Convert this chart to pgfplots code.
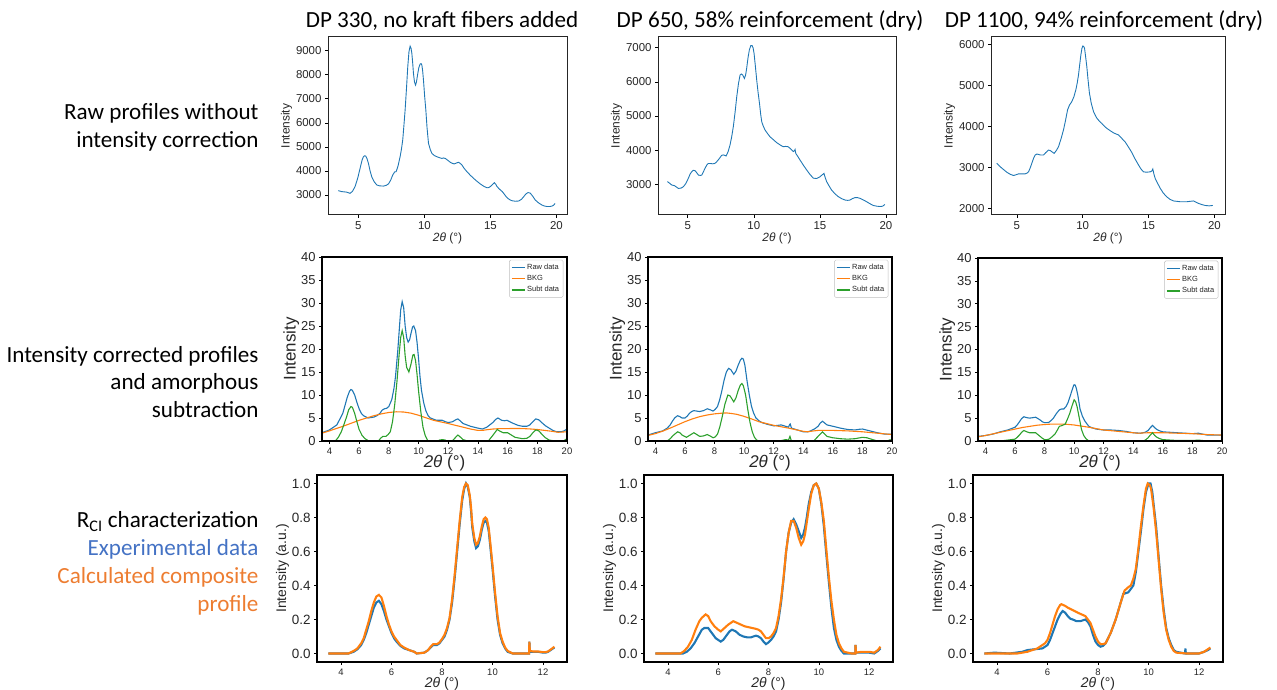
\documentclass[border=0pt]{standalone}
\usepackage{pgfplots}
\pgfplotsset{compat=1.18}
\usepackage{fontspec}
\setmainfont{Carlito}
\newfontfamily\arial{Liberation Sans}
\definecolor{tabblue}{HTML}{1F77B4}
\definecolor{taborange}{HTML}{FF7F0E}
\definecolor{tabgreen}{HTML}{2CA02C}
\definecolor{offblue}{HTML}{4472C4}
\definecolor{offorange}{HTML}{ED7D31}
\definecolor{txt}{HTML}{262626}
\pgfplotsset{
  base/.style={scale only axis, anchor=north west, axis line style={line width=1.3pt, black},
    tick align=outside, tick pos=left, major tick length=3pt, every tick/.style={black, line width=0.6pt},
    /pgf/number format/assume math mode=true, /pgf/number format/set thousands separator={},
    clip=true, axis on top},
  r1/.style={base, axis line style={line width=1pt, black!85},
    tick label style={font=\arial\fontsize{11.5}{13}\selectfont, text=txt},
    label style={font=\arial\fontsize{12}{14}\selectfont, text=txt},
    xtick={5,10,15,20}, xlabel={{\itshape 2θ} (°)}, ylabel={Intensity},
    xlabel shift=-4pt, ylabel shift=-3pt},
  r1p/.style={tabblue, line width=0.9pt, no marks},
  r2/.style={base, xmin=3.5, xmax=20, ymin=0, ymax=40, xtick={4,6,...,20}, ytick={0,5,...,40},
    yticklabel style={font=\arial\fontsize{13}{14}\selectfont, text=txt},
    xticklabel style={font=\arial\fontsize{9.5}{11}\selectfont, text=txt},
    label style={font=\arial\fontsize{17}{19}\selectfont, text=txt},
    xlabel={{\itshape 2θ} (°)}, ylabel={Intensity}, xlabel shift=-6pt, ylabel shift=-5pt,
    legend style={at={(0.985,0.985)}, anchor=north east, font=\arial\fontsize{7.5}{8}\selectfont,
      draw=black!25, rounded corners=1.5pt, inner sep=2pt, row sep=0.5pt, text=txt},
    legend cell align=left,
    legend image code/.code={\draw[#1] (0cm,0cm) -- (0.45cm,0cm);}},
  r3/.style={base, xmin=3.05, xmax=12.95, ymin=-0.05, ymax=1.05, xtick={4,6,...,12}, ytick={0,0.2,...,1.0},
    yticklabel style={font=\arial\fontsize{13.5}{15}\selectfont, text=txt, /pgf/number format/.cd, fixed, fixed zerofill, precision=1},
    xticklabel style={font=\arial\fontsize{9.5}{11}\selectfont, text=txt},
    label style={font=\arial\fontsize{14}{15}\selectfont, text=txt},
    xlabel={{\itshape 2θ} (°)}, ylabel={Intensity (a.u.)}, xlabel shift=-5pt, ylabel shift=-4pt},
}
\begin{document}
\begin{tikzpicture}
\path[use as bounding box] (0,0) rectangle (1277bp,690bp);
% ---------- titles ----------
\node[font=\fontsize{23.2}{26}\selectfont] at (442bp,669bp) {DP 330, no kraft fibers added};
\node[font=\fontsize{23.2}{26}\selectfont] at (770bp,669bp) {DP 650, 58\% reinforcement (dry)};
\node[font=\fontsize{23.2}{26}\selectfont] at (1104bp,669bp) {DP 1100, 94\% reinforcement (dry)};
% ---------- left text ----------
\node[anchor=east, align=right, font=\fontsize{23.2}{28}\selectfont] at (262bp,563bp) {Raw profiles without\\intensity correction};
\node[anchor=east, align=right, font=\fontsize{23.2}{27.5}\selectfont] at (262bp,308bp) {Intensity corrected profiles\\and amorphous\\subtraction};
\node[anchor=east, align=right, font=\fontsize{23.2}{28}\selectfont] at (262bp,127bp) {R\textsubscript{CI} characterization\\\textcolor{offblue}{Experimental data}\\\textcolor{offorange}{Calculated composite}\\\textcolor{offorange}{profile}};

% ================= ROW 1 =================
\begin{axis}[r1, at={(328bp,653bp)}, width=239bp, height=178bp, xmin=2.7, xmax=20.8, ymin=2168, ymax=9570,
  ytick={3000,4000,...,9000}]
\addplot[r1p] coordinates {(3.48,3180)(3.74,3140)(4.1,3120)(4.37,3070)(4.55,3150)(4.75,3350)(4.95,3700)(5.13,4110)(5.28,4450)(5.38,4590)(5.47,4630)(5.56,4620)(5.66,4500)(5.76,4320)(5.88,4020)(6.01,3760)(6.2,3550)(6.39,3420)(6.6,3380)(6.9,3370)(7.1,3400)(7.28,3460)(7.45,3620)(7.6,3830)(7.75,3960)(7.86,3970)(8.0,4200)(8.16,4590)(8.26,4900)(8.36,5290)(8.45,5900)(8.54,6530)(8.64,7400)(8.74,8330)(8.83,8950)(8.92,9190)(8.99,9100)(9.05,8890)(9.12,8450)(9.17,8060)(9.25,7700)(9.33,7570)(9.4,7700)(9.48,7990)(9.58,8300)(9.68,8450)(9.75,8460)(9.81,8400)(9.87,8150)(9.93,7780)(10.02,7100)(10.11,6530)(10.2,5800)(10.31,5150)(10.45,4880)(10.57,4730)(10.75,4640)(10.95,4590)(11.15,4550)(11.32,4520)(11.45,4540)(11.58,4520)(11.78,4440)(11.96,4360)(12.1,4320)(12.26,4290)(12.42,4330)(12.59,4360)(12.7,4320)(12.84,4250)(13.02,4100)(13.22,3970)(13.48,3820)(13.73,3690)(13.98,3570)(14.23,3460)(14.5,3360)(14.74,3300)(14.88,3310)(14.99,3350)(15.15,3430)(15.3,3510)(15.4,3450)(15.5,3350)(15.62,3280)(15.75,3210)(15.9,3140)(16.0,3070)(16.15,2960)(16.31,2860)(16.48,2800)(16.64,2760)(16.9,2740)(17.14,2750)(17.35,2820)(17.52,2930)(17.7,3050)(17.85,3100)(17.95,3090)(18.03,3070)(18.2,2950)(18.4,2790)(18.65,2670)(18.91,2580)(19.1,2540)(19.29,2520)(19.5,2520)(19.67,2540)(19.8,2580)(19.9,2650)};
\end{axis}
\begin{axis}[r1, at={(658bp,653bp)}, width=238bp, height=178bp, xmin=2.75, xmax=20.76, ymin=2102, ymax=7313,
  ytick={3000,4000,...,7000}]
\addplot[r1p] coordinates {(3.46,3080)(3.6,3040)(3.79,2980)(4.0,2960)(4.29,2880)(4.5,2890)(4.67,2930)(4.85,3020)(5.05,3180)(5.18,3300)(5.3,3370)(5.42,3410)(5.55,3400)(5.68,3340)(5.81,3270)(5.95,3260)(6.06,3270)(6.2,3380)(6.31,3470)(6.45,3570)(6.56,3610)(6.7,3610)(6.89,3600)(7.05,3610)(7.19,3660)(7.38,3750)(7.57,3850)(7.72,3860)(7.9,3830)(8.05,3950)(8.2,4150)(8.33,4400)(8.45,4690)(8.58,5100)(8.71,5570)(8.84,5950)(8.96,6200)(9.06,6230)(9.16,6200)(9.29,6100)(9.38,6200)(9.46,6400)(9.56,6700)(9.66,6930)(9.77,7060)(9.87,7060)(9.95,6990)(10.02,6830)(10.12,6450)(10.22,6050)(10.32,5700)(10.43,5370)(10.52,5050)(10.6,4830)(10.72,4700)(10.85,4590)(11.05,4480)(11.23,4390)(11.5,4300)(11.73,4220)(12.0,4150)(12.23,4100)(12.4,4110)(12.61,4100)(12.8,4030)(12.99,3960)(13.08,3990)(13.12,4020)(13.18,3900)(13.32,3820)(13.5,3710)(13.75,3560)(14.0,3420)(14.25,3290)(14.5,3180)(14.75,3170)(15.0,3220)(15.15,3270)(15.31,3320)(15.4,3200)(15.51,3080)(15.7,2950)(15.89,2830)(16.15,2720)(16.39,2640)(16.65,2580)(16.9,2540)(17.1,2530)(17.28,2540)(17.45,2580)(17.65,2610)(17.85,2610)(18.03,2590)(18.3,2540)(18.54,2490)(18.8,2430)(19.04,2380)(19.3,2360)(19.55,2350)(19.75,2360)(19.92,2410)};
\end{axis}
\begin{axis}[r1, at={(991bp,653bp)}, width=234bp, height=178bp, xmin=3.04, xmax=20.8, ymin=1837, ymax=6178,
  ytick={2000,3000,...,6000}]
\addplot[r1p] coordinates {(3.48,3100)(3.65,3040)(3.86,2980)(4.05,2930)(4.24,2880)(4.5,2830)(4.75,2800)(4.95,2820)(5.13,2840)(5.4,2840)(5.63,2840)(5.78,2860)(5.89,2890)(6.02,2990)(6.14,3100)(6.27,3220)(6.39,3300)(6.5,3320)(6.57,3320)(6.8,3300)(7.02,3300)(7.2,3360)(7.4,3420)(7.53,3410)(7.66,3380)(7.83,3340)(8.0,3410)(8.16,3500)(8.35,3690)(8.54,3910)(8.7,4150)(8.85,4400)(9.0,4520)(9.17,4600)(9.33,4720)(9.48,4890)(9.58,5050)(9.68,5250)(9.77,5500)(9.86,5740)(9.94,5900)(10.01,5960)(10.07,5950)(10.14,5900)(10.22,5700)(10.31,5460)(10.4,5150)(10.51,4810)(10.65,4560)(10.82,4360)(10.95,4270)(11.07,4200)(11.25,4130)(11.45,4070)(11.65,4000)(11.83,3950)(12.1,3890)(12.34,3840)(12.55,3810)(12.72,3790)(12.98,3700)(13.22,3620)(13.48,3490)(13.73,3360)(13.98,3200)(14.23,3060)(14.42,2960)(14.61,2890)(14.85,2880)(15.12,2890)(15.24,2910)(15.32,2960)(15.4,2840)(15.5,2730)(15.7,2600)(15.88,2490)(16.12,2370)(16.38,2280)(16.62,2220)(16.89,2180)(17.15,2170)(17.4,2160)(17.65,2160)(17.9,2160)(18.15,2170)(18.41,2180)(18.6,2150)(18.79,2120)(19.05,2090)(19.29,2070)(19.6,2060)(19.87,2070)};
\end{axis}

% ================= ROW 2 =================
\begin{axis}[r2, at={(322bp,433bp)}, width=245bp, height=184bp]
\addplot[tabblue, line width=1.1pt, no marks] coordinates {(3.5,1.8)(4.0,2.4)(4.5,3.5)(4.9,6.0)(5.2,9.5)(5.35,10.8)(5.45,11.2)(5.55,11.0)(5.7,10.0)(5.85,8.4)(6.0,7.0)(6.15,6.0)(6.3,5.5)(6.6,5.0)(7.0,5.2)(7.2,5.5)(7.4,6.0)(7.55,6.7)(7.7,7.0)(7.85,7.1)(8.0,7.5)(8.2,9.0)(8.35,11.5)(8.45,14.0)(8.6,19.5)(8.7,24.0)(8.8,28.5)(8.9,30.3)(9.0,29.0)(9.1,25.0)(9.2,22.5)(9.3,21.5)(9.4,22.0)(9.5,23.5)(9.6,24.8)(9.68,25.0)(9.8,24.0)(9.9,21.5)(10.0,18.0)(10.1,14.0)(10.2,11.0)(10.35,8.3)(10.5,6.5)(10.65,5.5)(10.8,5.0)(11.2,4.5)(11.6,4.5)(11.8,4.2)(12.0,4.0)(12.3,4.2)(12.5,4.6)(12.65,4.8)(12.8,4.4)(13.0,3.8)(13.5,3.2)(14.0,2.8)(14.3,2.6)(14.6,3.0)(15.0,4.0)(15.2,4.7)(15.35,5.0)(15.5,4.7)(15.6,4.5)(15.8,4.4)(15.95,4.5)(16.2,4.1)(16.4,3.8)(16.7,3.4)(17.0,3.2)(17.3,3.2)(17.5,3.5)(17.7,4.2)(17.9,4.8)(18.1,4.6)(18.3,4.0)(18.55,3.3)(18.8,2.8)(19.05,2.3)(19.3,2.0)(19.6,2.0)(19.8,2.2)(20.0,2.6)};
\addlegendentry{Raw data}
\addplot[taborange, line width=1.1pt, no marks] coordinates {(3.5,1.7)(4.0,2.2)(4.5,2.75)(5,3.3)(5.5,3.9)(6,4.5)(6.5,5.0)(7,5.5)(7.5,5.9)(8,6.2)(8.5,6.35)(9,6.3)(9.5,6.05)(10,5.6)(10.5,5.05)(11,4.5)(11.5,4.15)(12,3.8)(12.5,3.4)(13,3.0)(13.5,2.6)(14,2.3)(14.3,2.3)(14.6,2.45)(15,2.6)(15.5,2.7)(16,2.7)(16.5,2.72)(17,2.7)(17.5,2.62)(18,2.5)(18.5,2.3)(19,2.1)(19.4,1.9)(19.7,1.95)(20,2.0)};
\addlegendentry{BKG}
\addplot[tabgreen, line width=1.1pt, no marks] coordinates {(4.2,-1)(4.4,0)(4.6,0.8)(4.8,2.0)(5.0,3.8)(5.15,5.2)(5.3,6.8)(5.45,7.5)(5.55,7.3)(5.7,6.0)(5.85,4.2)(6.0,2.5)(6.2,1.2)(6.4,0.5)(6.6,0.1)(6.8,0)(7.0,-1)(7.2,-0.3)(7.3,0)(7.45,0.6)(7.6,1.0)(7.8,1.0)(7.95,1.4)(8.1,2.0)(8.25,4.2)(8.4,8.0)(8.55,13.0)(8.7,19.0)(8.8,22.5)(8.9,24.0)(9.0,22.5)(9.1,18.5)(9.2,16.0)(9.35,15.0)(9.5,16.8)(9.62,18.7)(9.7,18.8)(9.8,17.5)(9.9,14.5)(10.0,11.0)(10.15,6.5)(10.3,3.0)(10.45,1.2)(10.6,0.2)(10.8,-1)(11.3,-0.5)(11.4,0.2)(11.6,0.3)(11.8,0.2)(12.0,-0.2)(12.3,0.1)(12.5,0.8)(12.65,1.3)(12.8,0.9)(13.0,0.3)(13.3,0)(13.6,-1)(14.4,-1)(14.7,0)(15.0,1.2)(15.3,2.5)(15.5,2.1)(15.7,1.8)(16.0,1.8)(16.25,1.3)(16.5,0.8)(17.0,0.5)(17.3,0.6)(17.5,1.0)(17.7,1.8)(17.9,2.4)(18.1,2.2)(18.3,1.5)(18.55,0.7)(18.8,0.2)(19.2,0)(19.4,-1)(19.7,-0.3)(19.85,0.2)(20.0,0.5)};
\addlegendentry{Subt data}
\end{axis}
\begin{axis}[r2, at={(648bp,433bp)}, width=244bp, height=184bp]
\addplot[tabblue, line width=1.1pt, no marks] coordinates {(3.5,1.3)(4.0,1.8)(4.5,2.2)(4.8,2.8)(5.0,3.5)(5.15,4.3)(5.3,5.0)(5.5,5.5)(5.65,5.3)(5.8,5.0)(6.0,5.0)(6.15,5.4)(6.3,6.0)(6.45,6.4)(6.6,6.6)(6.8,6.5)(7.0,6.4)(7.25,6.6)(7.5,7.0)(7.7,6.8)(7.9,6.5)(8.05,6.9)(8.2,7.5)(8.35,9.0)(8.5,11.0)(8.65,13.3)(8.8,15.0)(8.95,15.8)(9.1,15.5)(9.3,14.5)(9.45,15.2)(9.6,16.5)(9.75,17.6)(9.85,18.0)(9.95,17.8)(10.05,16.5)(10.2,13.0)(10.35,10.0)(10.5,7.5)(10.65,6.0)(10.8,5.0)(11.0,4.4)(11.2,4.0)(11.6,3.6)(12.0,3.3)(12.3,3.4)(12.5,3.5)(12.8,3.2)(13.0,3.0)(13.08,3.6)(13.12,3.7)(13.2,2.8)(13.5,2.5)(14.0,2.0)(14.3,2.0)(14.5,2.2)(14.8,2.7)(15.0,3.2)(15.15,3.9)(15.3,4.3)(15.45,3.9)(15.6,3.5)(16.0,3.2)(16.5,2.8)(17.0,2.5)(17.5,2.4)(17.8,2.55)(18.0,2.6)(18.25,2.4)(18.5,2.2)(19.0,1.8)(19.5,1.5)(20.0,1.5)};
\addlegendentry{Raw data}
\addplot[taborange, line width=1.1pt, no marks] coordinates {(3.5,1.2)(4.0,1.6)(4.5,2.15)(5,2.8)(5.5,3.5)(6,4.2)(6.5,4.8)(7,5.3)(7.5,5.65)(8,5.9)(8.5,6.05)(8.8,6.1)(9.1,6.0)(9.5,5.8)(10,5.35)(10.5,4.8)(11,4.2)(11.5,3.8)(12,3.4)(12.5,3.1)(13,2.8)(13.5,2.45)(14,2.1)(14.3,2.0)(14.6,2.15)(15,2.3)(15.5,2.3)(16,2.3)(16.5,2.25)(17,2.2)(17.5,2.1)(18,2.0)(18.5,1.85)(19,1.7)(19.5,1.55)(20,1.4)};
\addlegendentry{BKG}
\addplot[tabgreen, line width=1.1pt, no marks] coordinates {(4.6,-1)(4.8,0)(5.0,0.5)(5.2,1.2)(5.5,2.0)(5.65,1.8)(5.8,1.3)(6.1,0.8)(6.35,1.3)(6.6,1.8)(6.8,1.4)(7.0,1.0)(7.25,1.1)(7.5,1.4)(7.7,1.1)(7.9,0.7)(8.05,0.9)(8.2,1.5)(8.35,3.0)(8.5,5.0)(8.7,8.0)(8.9,10.0)(9.05,9.8)(9.3,8.5)(9.45,9.4)(9.6,11.0)(9.75,12.2)(9.85,12.5)(9.95,12.0)(10.1,10.0)(10.25,6.8)(10.4,4.0)(10.55,2.0)(10.7,0.8)(10.85,0.2)(11.0,0)(11.2,-1)(12.2,-1)(12.4,0)(12.8,0.3)(13.0,0.2)(13.1,1.0)(13.2,0)(13.4,-1)(14.5,-1)(14.7,0)(15.0,1.0)(15.3,2.0)(15.45,1.5)(15.6,1.0)(16.0,0.7)(16.5,0.5)(17.0,0.4)(17.5,0.5)(18.0,0.8)(18.3,0.7)(18.5,0.5)(19.0,0)(19.3,-1)(19.6,-0.3)(19.8,0.2)(20,0.3)};
\addlegendentry{Subt data}
\end{axis}
\begin{axis}[r2, at={(978bp,432bp)}, width=244bp, height=183bp]
\addplot[tabblue, line width=1.1pt, no marks] coordinates {(3.5,1.0)(4.0,1.2)(4.5,1.5)(5.0,2.0)(5.5,2.4)(6.0,3.0)(6.15,3.5)(6.3,4.2)(6.45,4.9)(6.6,5.3)(6.8,5.1)(7.0,5.0)(7.2,5.1)(7.4,5.2)(7.55,4.9)(7.7,4.6)(7.85,4.2)(8.0,4.0)(8.15,4.0)(8.3,4.1)(8.45,4.5)(8.6,5.0)(8.8,6.0)(9.0,6.8)(9.15,7.0)(9.3,7.0)(9.45,7.5)(9.6,8.5)(9.75,10.0)(9.85,11.0)(9.95,12.0)(10.0,12.3)(10.08,12.2)(10.15,11.5)(10.25,10.0)(10.4,7.0)(10.55,5.5)(10.7,4.5)(10.85,3.8)(11.0,3.2)(11.2,2.9)(11.5,2.6)(12,2.4)(12.5,2.4)(13,2.3)(13.5,2.1)(14,1.8)(14.5,1.7)(14.8,1.9)(15.0,2.3)(15.15,2.9)(15.3,3.4)(15.45,2.9)(15.6,2.5)(15.8,2.2)(16,2.0)(16.5,1.9)(17,1.8)(17.5,1.7)(18,1.6)(18.4,1.7)(18.7,1.5)(19,1.3)(19.5,1.3)(20,1.3)};
\addlegendentry{Raw data}
\addplot[taborange, line width=1.1pt, no marks] coordinates {(3.5,0.9)(4.0,1.2)(4.5,1.55)(5,1.9)(5.5,2.25)(6,2.6)(6.5,2.95)(7,3.2)(7.5,3.45)(8,3.6)(8.5,3.7)(9,3.7)(9.5,3.65)(10,3.5)(10.5,3.25)(11,3.0)(11.5,2.7)(12,2.4)(12.5,2.25)(13,2.1)(13.5,1.95)(14,1.8)(14.3,1.7)(14.6,1.75)(15,1.8)(15.5,1.8)(16,1.8)(16.5,1.75)(17,1.7)(17.5,1.65)(18,1.6)(18.5,1.5)(19,1.4)(19.5,1.35)(20,1.3)};
\addlegendentry{BKG}
\addplot[tabgreen, line width=1.1pt, no marks] coordinates {(4.8,-1)(5.0,0)(5.5,0.2)(6.0,0.4)(6.15,0.8)(6.3,1.3)(6.45,1.9)(6.6,2.3)(6.8,2.0)(7.0,1.8)(7.2,1.8)(7.4,1.8)(7.55,1.4)(7.7,1.0)(7.85,0.6)(8.0,0.3)(8.15,0.3)(8.3,0.4)(8.5,0.9)(8.7,1.5)(8.85,2.3)(9.0,3.2)(9.2,3.4)(9.4,3.7)(9.55,4.8)(9.7,6.0)(9.85,7.6)(10.0,9.0)(10.1,8.6)(10.2,7.5)(10.35,5.0)(10.5,2.5)(10.65,1.2)(10.8,0.5)(11.0,0)(11.2,0.05)(11.4,0.1)(11.6,-0.3)(12.0,0)(12.5,0.05)(13.0,0.1)(13.5,0.05)(14.0,0)(14.3,-1)(14.6,-0.2)(14.7,0)(14.85,0.3)(15.0,0.7)(15.15,1.3)(15.3,1.8)(15.45,1.2)(15.6,0.8)(15.8,0.5)(16,0.3)(16.5,0.2)(17,0.1)(17.5,0.1)(18,0.1)(18.4,0.2)(18.7,0.1)(19,0)(19.3,-0.5)(19.6,0)(20,0.1)};
\addlegendentry{Subt data}
\end{axis}

% ================= ROW 3 =================
\begin{axis}[r3, at={(317bp,215bp)}, width=250bp, height=187bp]
\addplot[tabblue, line width=2.1pt, no marks] coordinates {(3.5,0)(4.3,0)(4.5,0.01)(4.65,0.025)(4.8,0.05)(4.9,0.08)(5.0,0.12)(5.1,0.17)(5.2,0.22)(5.3,0.27)(5.4,0.30)(5.5,0.31)(5.6,0.29)(5.7,0.25)(5.8,0.2)(5.9,0.16)(6.0,0.12)(6.1,0.09)(6.2,0.07)(6.35,0.045)(6.5,0.03)(6.7,0.02)(6.9,0.01)(7.0,0.0)(7.3,0.005)(7.45,0.02)(7.55,0.035)(7.65,0.05)(7.8,0.05)(7.9,0.06)(8.0,0.08)(8.1,0.1)(8.2,0.14)(8.3,0.2)(8.4,0.3)(8.5,0.44)(8.6,0.6)(8.7,0.76)(8.8,0.9)(8.88,0.97)(8.95,1.0)(9.02,0.98)(9.1,0.92)(9.15,0.84)(9.2,0.74)(9.28,0.66)(9.35,0.62)(9.42,0.63)(9.5,0.67)(9.58,0.73)(9.65,0.77)(9.72,0.78)(9.78,0.77)(9.85,0.72)(9.92,0.62)(10.0,0.5)(10.1,0.34)(10.2,0.2)(10.3,0.11)(10.4,0.06)(10.5,0.03)(10.6,0.01)(10.8,0.0)(11.45,0.0)(11.46,0.07)(11.48,0.01)(11.6,0.01)(11.8,0.01)(12.0,0.005)(12.1,0.005)(12.2,0.01)(12.35,0.025)(12.45,0.035)};
\addplot[taborange, line width=2.1pt, no marks] coordinates {(3.5,0)(4.3,0)(4.5,0.015)(4.65,0.03)(4.8,0.06)(4.9,0.09)(5.0,0.14)(5.1,0.19)(5.2,0.25)(5.3,0.3)(5.4,0.335)(5.5,0.345)(5.6,0.33)(5.7,0.28)(5.8,0.22)(5.9,0.17)(6.0,0.13)(6.1,0.1)(6.2,0.08)(6.35,0.05)(6.5,0.035)(6.7,0.02)(6.9,0.01)(7.0,0.0)(7.3,0.005)(7.45,0.02)(7.55,0.04)(7.65,0.055)(7.8,0.055)(7.9,0.065)(8.0,0.085)(8.1,0.11)(8.2,0.15)(8.3,0.21)(8.4,0.32)(8.5,0.46)(8.6,0.62)(8.7,0.78)(8.8,0.92)(8.88,0.98)(8.95,1.0)(9.02,0.99)(9.1,0.93)(9.15,0.86)(9.2,0.76)(9.28,0.68)(9.35,0.64)(9.42,0.65)(9.5,0.69)(9.58,0.75)(9.65,0.79)(9.72,0.80)(9.78,0.79)(9.85,0.74)(9.92,0.64)(10.0,0.52)(10.1,0.36)(10.2,0.22)(10.3,0.12)(10.4,0.07)(10.5,0.035)(10.6,0.015)(10.8,0.0)(11.45,0.0)(11.46,0.07)(11.48,0.015)(11.6,0.012)(11.8,0.012)(12.0,0.008)(12.1,0.008)(12.2,0.012)(12.35,0.028)(12.45,0.04)};
\end{axis}
\begin{axis}[r3, at={(644bp,215bp)}, width=249bp, height=187bp]
\addplot[tabblue, line width=2.1pt, no marks] coordinates {(3.5,0)(4.6,0)(4.75,0.01)(4.9,0.03)(5.05,0.06)(5.2,0.1)(5.35,0.14)(5.45,0.15)(5.6,0.15)(5.7,0.13)(5.8,0.11)(5.9,0.09)(6.0,0.08)(6.1,0.07)(6.2,0.08)(6.3,0.1)(6.45,0.13)(6.55,0.14)(6.7,0.13)(6.85,0.11)(7.0,0.1)(7.15,0.095)(7.3,0.095)(7.5,0.105)(7.6,0.1)(7.7,0.09)(7.8,0.07)(7.9,0.055)(8.0,0.065)(8.1,0.08)(8.2,0.1)(8.3,0.13)(8.4,0.2)(8.5,0.3)(8.6,0.44)(8.7,0.6)(8.8,0.71)(8.9,0.77)(9.0,0.79)(9.1,0.76)(9.2,0.72)(9.3,0.68)(9.38,0.7)(9.45,0.74)(9.52,0.8)(9.6,0.88)(9.7,0.95)(9.8,0.99)(9.9,1.0)(10.0,0.97)(10.1,0.88)(10.2,0.75)(10.3,0.58)(10.4,0.42)(10.5,0.27)(10.6,0.15)(10.7,0.08)(10.8,0.04)(10.9,0.015)(11.0,0.0)(11.45,0.0)(11.46,0.05)(11.48,0.005)(11.7,0.005)(12.0,0.005)(12.2,0.0)(12.35,0.015)(12.45,0.03)};
\addplot[taborange, line width=2.1pt, no marks] coordinates {(3.5,0)(4.5,0)(4.65,0.015)(4.8,0.04)(4.95,0.08)(5.1,0.14)(5.25,0.19)(5.35,0.21)(5.5,0.23)(5.6,0.22)(5.7,0.19)(5.85,0.16)(6.0,0.14)(6.1,0.13)(6.25,0.15)(6.4,0.17)(6.6,0.19)(6.75,0.18)(6.9,0.17)(7.05,0.16)(7.2,0.155)(7.35,0.15)(7.5,0.145)(7.6,0.14)(7.7,0.13)(7.8,0.11)(7.9,0.09)(8.0,0.09)(8.1,0.1)(8.2,0.12)(8.3,0.15)(8.4,0.22)(8.5,0.32)(8.6,0.45)(8.7,0.6)(8.8,0.71)(8.9,0.78)(9.0,0.78)(9.1,0.74)(9.2,0.68)(9.3,0.64)(9.38,0.66)(9.45,0.7)(9.52,0.77)(9.6,0.85)(9.7,0.94)(9.8,0.99)(9.9,1.0)(10.0,0.97)(10.1,0.89)(10.2,0.78)(10.3,0.61)(10.4,0.45)(10.5,0.31)(10.6,0.2)(10.7,0.11)(10.8,0.06)(10.9,0.03)(11.0,0.01)(11.3,0.0)(11.45,0.0)(11.46,0.05)(11.48,0.005)(11.7,0.01)(12.0,0.01)(12.2,0.005)(12.35,0.02)(12.45,0.04)};
\end{axis}
\begin{axis}[r3, at={(973bp,215bp)}, width=250bp, height=187bp]
\addplot[tabblue, line width=2.1pt, no marks] coordinates {(3.5,0)(3.9,0.005)(4.5,0.0)(5.0,0.01)(5.2,0.02)(5.5,0.025)(5.8,0.03)(5.9,0.04)(6.0,0.05)(6.1,0.08)(6.2,0.12)(6.3,0.16)(6.4,0.2)(6.5,0.23)(6.6,0.25)(6.7,0.24)(6.8,0.22)(6.9,0.205)(7.0,0.2)(7.15,0.19)(7.3,0.19)(7.5,0.2)(7.6,0.185)(7.7,0.16)(7.8,0.11)(7.9,0.07)(8.0,0.05)(8.1,0.04)(8.2,0.045)(8.3,0.06)(8.4,0.09)(8.5,0.12)(8.6,0.16)(8.7,0.2)(8.8,0.25)(8.9,0.3)(9.0,0.35)(9.1,0.355)(9.2,0.36)(9.3,0.38)(9.4,0.4)(9.5,0.48)(9.6,0.6)(9.7,0.72)(9.8,0.85)(9.9,0.95)(10.0,1.0)(10.08,1.0)(10.15,0.95)(10.2,0.88)(10.3,0.75)(10.4,0.57)(10.5,0.4)(10.6,0.26)(10.7,0.15)(10.8,0.09)(10.9,0.05)(11.0,0.02)(11.1,0.01)(11.45,0.0)(11.46,0.03)(11.48,0.0)(12.0,0.0)(12.2,0.01)(12.35,0.02)(12.45,0.03)};
\addplot[taborange, line width=2.1pt, no marks] coordinates {(3.5,0)(4.8,0)(5.0,0.005)(5.2,0.01)(5.4,0.02)(5.6,0.03)(5.75,0.045)(5.9,0.06)(6.0,0.08)(6.1,0.12)(6.2,0.17)(6.3,0.22)(6.4,0.26)(6.5,0.285)(6.55,0.29)(6.7,0.28)(6.8,0.27)(7.0,0.255)(7.2,0.24)(7.35,0.23)(7.5,0.22)(7.6,0.2)(7.7,0.18)(7.8,0.14)(7.9,0.1)(8.0,0.07)(8.1,0.055)(8.2,0.055)(8.3,0.06)(8.4,0.09)(8.5,0.12)(8.6,0.16)(8.7,0.2)(8.8,0.25)(8.9,0.3)(9.05,0.37)(9.2,0.39)(9.3,0.4)(9.4,0.44)(9.5,0.5)(9.6,0.62)(9.7,0.75)(9.8,0.87)(9.9,0.97)(9.97,1.0)(10.05,0.99)(10.1,0.97)(10.2,0.86)(10.3,0.72)(10.4,0.55)(10.5,0.38)(10.6,0.24)(10.7,0.14)(10.8,0.08)(10.9,0.04)(11.0,0.015)(11.1,0.005)(11.5,0.0)(12.0,0.0)(12.2,0.01)(12.35,0.025)(12.45,0.035)};
\end{axis}
\end{tikzpicture}
\end{document}
